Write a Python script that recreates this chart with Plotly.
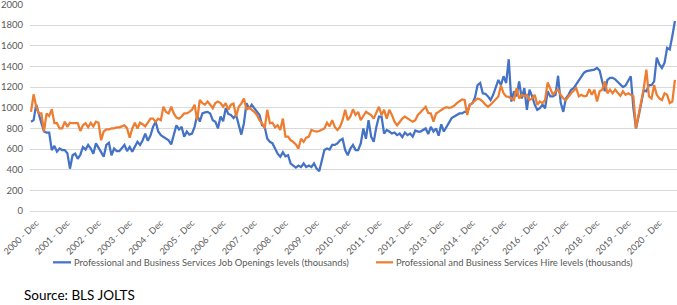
import plotly.graph_objects as go

MONTH_ABBR = ["Jan", "Feb", "Mar", "Apr", "May", "Jun", "Jul", "Aug", "Sep", "Oct", "Nov", "Dec"]
N_MONTHS = 249  # Dec 2000 .. Aug 2021
months = []
for i in range(N_MONTHS):
    k = 11 + i
    months.append(f"{2000 + k // 12} - {MONTH_ABBR[k % 12]}")

tick_labels = [f"{y} - Dec" for y in range(2000, 2021)]

job_openings = [
    865, 880, 1030, 930, 850, 770, 760, 760, 590, 630, 575, 605,
    590, 590, 560, 410, 540, 555, 505, 545, 620, 595, 640, 605,
    555, 655, 605, 570, 525, 640, 660, 540, 605, 580, 580, 605,
    640, 580, 620, 575, 620, 670, 640, 685, 750, 680, 730, 815,
    865, 770, 735, 720, 700, 685, 645, 750, 830, 790, 815, 720,
    770, 740, 750, 815, 930, 865, 945, 955, 960, 945, 880, 865,
    800, 915, 870, 995, 940, 930, 900, 930, 830, 740, 850, 1045,
    990, 1030, 995, 960, 930, 830, 815, 700, 670, 655, 605, 555,
    525, 570, 530, 540, 460, 440, 420, 440, 425, 460, 425, 440,
    425, 460, 410, 385, 490, 590, 605, 595, 640, 640, 655, 685,
    700, 590, 540, 605, 640, 590, 590, 655, 800, 700, 880, 720,
    670, 815, 915, 915, 750, 785, 770, 750, 760, 735, 750, 715,
    760, 735, 750, 720, 780, 770, 770, 785, 800, 745, 815, 770,
    800, 730, 840, 770, 815, 850, 900, 915, 930, 945, 945, 960,
    960, 1030, 1045, 1100, 1220, 1240, 1140, 1135, 1110, 1075, 1125, 1190,
    1270, 1220, 1305, 1240, 1470, 1060, 1160, 1110, 1255, 1090, 1190, 980,
    1175, 1110, 1030, 980, 995, 1030, 995, 1160, 1110, 1110, 1125, 1310,
    1050, 960, 1090, 1125, 1175, 1190, 1230, 1265, 1300, 1340, 1355, 1360,
    1360, 1370, 1385, 1360, 1255, 1160, 1270, 1290, 1290, 1275, 1250, 1220,
    1200, 1215, 1255, 1305, 1000, 800, 915, 1030, 1170, 1160, 1220, 1220,
    1255, 1485, 1420, 1385, 1435, 1580, 1565, 1695, 1840,
]

hires = [
    960, 1130, 1010, 945, 945, 770, 945, 920, 985, 850, 850, 800,
    800, 865, 815, 855, 850, 850, 850, 775, 830, 850, 810, 855,
    820, 865, 855, 685, 770, 790, 790, 800, 800, 810, 810, 820,
    830, 800, 710, 800, 855, 800, 855, 840, 820, 855, 895, 895,
    865, 895, 880, 1010, 960, 945, 1010, 945, 905, 895, 915, 945,
    945, 960, 980, 1030, 880, 1075, 1045, 1030, 1060, 1030, 995, 1045,
    1060, 1045, 1010, 1045, 980, 1030, 1040, 915, 1010, 1040, 1090, 980,
    1005, 980, 960, 930, 880, 850, 800, 980, 850, 855, 810, 830,
    785, 895, 720, 720, 685, 670, 645, 605, 700, 670, 710, 720,
    785, 775, 770, 775, 785, 800, 855, 820, 880, 815, 785, 815,
    880, 980, 880, 915, 985, 930, 960, 880, 920, 960, 945, 930,
    895, 945, 1010, 930, 980, 895, 980, 930, 865, 830, 865, 895,
    915, 895, 880, 865, 880, 930, 960, 985, 1010, 950, 945, 865,
    945, 960, 980, 995, 1005, 1000, 1005, 1020, 1045, 1060, 1080, 1075,
    930, 1030, 1045, 1070, 1090, 1080, 1060, 1030, 1010, 1030, 1060, 1080,
    1110, 1215, 1140, 1110, 1105, 1090, 1075, 1190, 1090, 1125, 1110, 1125,
    1075, 1090, 1125, 1030, 1060, 1045, 1075, 1245, 1190, 1125, 1160, 1175,
    1125, 1090, 1075, 1110, 1140, 1165, 1190, 1110, 1125, 1110, 1115, 1180,
    1125, 1175, 1060, 1160, 1175, 1255, 1140, 1175, 1140, 1175, 1140, 1115,
    1160, 1125, 1140, 1125, 1110, 800, 930, 1075, 1190, 1370, 1110, 1090,
    1220, 1125, 1090, 1075, 1140, 1125, 1045, 1060, 1270,
]

series_names = [
    "Professional and Business Services Job Openings levels (thousands)",
    "Professional and Business Services Hire levels (thousands)",
]
colors = ["#4472C4", "#ED7D31"]

n = min(len(months), len(job_openings), len(hires))

FONT = "Lato, 'Open Sans', sans-serif"
TEXT_GREY = "#595959"

fig = go.Figure()
for name, vals, c in zip(series_names, [job_openings, hires], colors):
    fig.add_trace(go.Scatter(
        x=months[:n], y=vals[:n], mode="lines", name=name,
        line=dict(color=c, width=2.25), showlegend=False,
    ))

# Legend drawn below the plot (line swatch + label), Excel style
legend_y = -0.248
legend_items = [(0.0355, 0.0634, 0.0650), (0.5348, 0.5611, 0.5626)]
shapes = []
annotations = []
for (x0, x1, xt), name, c in zip(legend_items, series_names, colors):
    shapes.append(dict(type="line", xref="paper", yref="paper",
                       x0=x0, x1=x1, y0=legend_y, y1=legend_y,
                       line=dict(color=c, width=2.25)))
    annotations.append(dict(text=name, xref="paper", yref="paper",
                            x=xt, y=legend_y, xanchor="left", yanchor="middle",
                            showarrow=False,
                            font=dict(size=9.4, color=TEXT_GREY, family=FONT)))

annotations.append(dict(
    text="Source: BLS JOLTS", xref="paper", yref="paper",
    x=-0.012, y=-0.405, xanchor="left", yanchor="middle", showarrow=False,
    font=dict(size=13.5, color="#000000", family=FONT),
))

fig.update_layout(
    width=677, height=305,
    margin=dict(l=30, r=0, t=4, b=94, autoexpand=False),
    paper_bgcolor="white", plot_bgcolor="white",
    font=dict(family=FONT, color=TEXT_GREY, size=9),
    showlegend=False,
    xaxis=dict(
        type="category", categoryorder="array", categoryarray=months,
        range=[-0.39, n - 1 + 0.8], automargin=False,
        tickmode="array", tickvals=tick_labels, ticktext=tick_labels,
        tickangle=-45, showgrid=False, zeroline=False, showline=False,
        ticks="", tickfont=dict(size=9, color=TEXT_GREY),
        ticklabelshift=5, ticklabelstandoff=4, ticklabeloverflow="allow",
    ),
    yaxis=dict(
        range=[0, 2005], tickmode="array", tickvals=list(range(0, 2001, 200)),
        showgrid=True, gridcolor="#D9D9D9",
        gridwidth=1, zeroline=True, zerolinecolor="#D9D9D9", zerolinewidth=1,
        showline=False, ticks="", automargin=False,
        tickfont=dict(size=9.5, color=TEXT_GREY),
        ticklabelstandoff=6, ticklabeloverflow="allow",
    ),
    shapes=shapes,
    annotations=annotations,
)

fig.write_html(
    "out.html",
    config={"displayModeBar": False},
    post_script="document.body.style.margin='0px';document.body.style.overflow='hidden';",
)
